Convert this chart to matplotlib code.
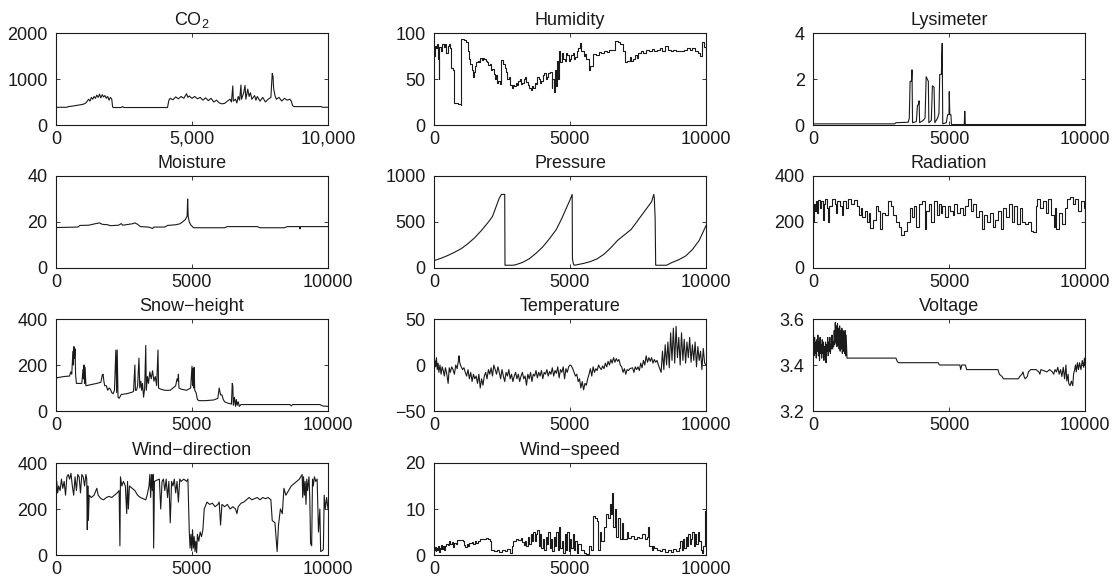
import matplotlib
matplotlib.use("Agg")
import matplotlib.pyplot as plt

plt.rcParams['font.family'] = ['Liberation Sans', 'DejaVu Sans']
plt.rcParams['mathtext.fontset'] = 'custom'
plt.rcParams['mathtext.rm'] = 'Liberation Sans'
plt.rcParams['mathtext.it'] = 'Liberation Sans'

# ---------------- data (sample index, value) ----------------
co2 = [(0,385),(400,385),(450,400),(600,410),(800,430),(1000,450),(1100,480),(1150,520),(1200,560),(1250,520),
       (1300,600),(1350,560),(1400,620),(1450,580),(1500,650),(1550,600),(1600,670),(1650,590),(1700,660),(1750,610),
       (1800,640),(1850,580),(1900,620),(1950,540),(2000,600),(2050,560),(2080,400),(2100,380),(2400,380),(2450,400),
       (2500,380),(4100,380),(4150,540),(4200,580),(4300,550),(4400,610),(4500,570),(4600,620),(4700,580),(4800,680),
       (4850,600),(4900,630),(5000,580),(5100,620),(5200,570),(5300,600),(5400,540),(5500,590),(5600,530),(5700,580),
       (5800,500),(5900,540),(6000,480),(6100,460),(6200,470),(6300,520),(6400,560),(6450,500),(6500,850),(6520,520),
       (6600,560),(6650,480),(6700,620),(6750,540),(6800,870),(6820,560),(6900,700),(6950,860),(6980,560),(7050,780),
       (7100,620),(7150,700),(7200,560),(7300,640),(7350,540),(7400,620),(7500,520),(7600,600),(7700,500),(7800,560),
       (7900,600),(7950,1120),(7980,1050),(8000,800),(8050,640),(8100,560),(8200,600),(8300,520),(8400,580),(8500,540),
       (8600,560),(8650,520),(8700,420),(8750,400),(9750,400),(9800,385),(10000,385)]

humidity = [(0,75),(40,86),(80,84),(120,88),(160,72),(180,50),(190,85),(250,80),(300,88),(350,85),(400,88),(450,78),
            (500,86),(550,88),(600,84),(640,62),(700,60),(720,24),(900,23),(975,22),(985,93),(1100,92),(1170,90),
            (1250,80),(1300,72),(1340,66),(1380,60),(1440,52),(1480,58),(1500,64),(1560,68),(1600,70),(1650,69),
            (1700,73),(1750,71),(1800,73),(1850,72),(1900,70),(1950,68),(2000,65),(2050,66),(2100,60),(2150,61),
            (2200,55),(2250,50),(2280,54),(2300,46),(2350,48),(2420,45),(2480,71),(2550,66),(2600,62),(2650,58),
            (2700,50),(2750,52),(2800,43),(2850,40),(2900,44),(2950,42),(3000,46),(3050,44),(3100,48),(3150,50),
            (3200,45),(3250,46),(3300,50),(3350,52),(3400,47),(3450,44),(3500,40),(3550,38),(3600,42),(3650,40),
            (3700,46),(3750,45),(3800,52),(3850,50),(3900,46),(3950,48),(4000,54),(4050,56),(4100,50),(4150,52),
            (4200,56),(4250,58),(4320,40),(4350,50),(4400,36),(4440,60),(4480,42),(4520,70),(4560,50),(4600,80),
            (4650,68),(4700,78),(4750,72),(4800,70),(4850,78),(4900,76),(4950,70),(5000,72),(5050,76),(5100,78),
            (5150,72),(5200,74),(5250,80),(5300,84),(5360,89),(5420,80),(5500,75),(5550,77),(5600,72),(5690,60),
            (5750,64),(5850,77),(5950,76),(6050,79),(6150,78),(6250,80),(6350,79),(6450,81),(6550,82),(6670,91),
            (6750,90),(6830,88),(6950,80),(7040,68),(7100,70),(7200,74),(7250,70),(7300,72),(7400,76),(7450,73),
            (7500,78),(7600,80),(7700,78),(7800,82),(7900,80),(8000,83),(8100,80),(8200,81),(8300,84),(8400,80),
            (8500,86),(8600,82),(8700,80),(8800,81),(8900,80),(9000,80),(9100,80),(9200,81),(9300,84),(9400,82),
            (9500,84),(9600,80),(9700,78),(9780,75),(9850,80),(9870,90),(9930,85),(10000,80)]

lysimeter = [(0,0.05),(3000,0.05),(3050,0.1),(3500,0.12),(3540,0.3),(3570,1.9),(3620,1.9),(3640,2.4),(3660,0.1),
             (3800,0.15),(3840,0.85),(3880,0.9),(3900,1.05),(3920,0.1),(4050,0.2),(4120,0.3),(4160,2.1),(4200,2.0),
             (4240,1.9),(4260,0.1),(4350,0.2),(4390,1.7),(4450,1.65),(4480,0.1),(4580,0.3),(4630,0.5),(4660,2.2),
             (4720,2.2),(4750,3.55),(4770,0.05),(4900,0.1),(4950,0.45),(5000,0.45),(5010,1.45),(5030,0.45),
             (5070,0.45),(5090,0.02),(5560,0.02),(5580,0.6),(5600,0.02),(10000,0.02)]

moisture = [(0,17.2),(30,17.6),(800,17.8),(880,18.5),(1200,18.6),(1500,19.4),(1600,19.6),(1700,19.0),(1900,18.8),
            (2000,18.4),(2300,18.6),(2400,19.3),(2450,18.6),(2800,19.2),(2900,19.6),(3000,19.0),(3100,18.0),
            (3400,17.8),(3550,17.2),(3600,17.8),(4000,17.8),(4100,18.5),(4400,18.8),(4550,19.2),(4650,20.0),
            (4750,21.0),(4820,22.5),(4840,30.0),(4860,22.5),(4900,20.0),(4950,18.8),(5060,17.5),(6200,17.5),
            (6300,18.0),(7400,18.0),(7500,17.5),(8400,17.5),(8500,18.0),(8950,18.0),(8970,17.0),(8990,18.0),
            (10000,18.0)]

pressure = [(0,80),(250,105),(500,135),(750,170),(1000,210),(1250,265),(1500,330),(1750,410),(2000,500),(2150,560),
            (2200,600),(2300,680),(2400,760),(2480,800),(2600,800),(2610,30),(2900,30),(3000,35),(3250,60),(3500,100),
            (3750,160),(4000,230),(4250,320),(4500,420),(4700,540),(4850,640),(5000,740),(5080,800),(5090,100),
            (5120,50),(5150,30),(5250,35),(5500,50),(5750,70),(6000,100),(6250,150),(6500,220),(6750,300),(7000,360),
            (7250,420),(7500,520),(7750,620),(8000,720),(8080,800),(8100,760),(8130,540),(8150,30),(8550,30),
            (8750,60),(9000,90),(9250,130),(9500,200),(9750,300),(10000,460)]

radiation = [(0,200),(30,280),(60,250),(100,290),(150,240),(200,295),(250,260),(300,290),(350,210),(400,280),
             (450,300),(500,260),(550,200),(600,270),(700,300),(800,280),(850,240),(900,290),(1000,270),(1050,230),
             (1100,290),(1200,260),(1300,300),(1400,280),(1500,295),(1600,270),(1700,230),(1750,260),(1800,220),
             (1900,250),(2000,200),(2050,240),(2100,175),(2200,210),(2300,270),(2400,250),(2450,170),(2550,240),
             (2650,230),(2750,290),(2850,270),(2950,230),(3050,200),(3150,180),(3250,145),(3350,160),(3450,200),
             (3550,260),(3650,220),(3700,270),(3800,180),(3900,280),(4000,290),(4100,170),(4150,250),(4250,280),
             (4350,200),(4450,290),(4550,230),(4650,280),(4700,240),(4750,270),(4850,220),(4950,270),(5050,250),
             (5150,230),(5200,280),(5300,240),(5400,260),(5500,230),(5600,270),(5700,300),(5800,250),(5900,280),
             (6000,220),(6100,250),(6200,170),(6300,230),(6400,200),(6500,240),(6600,180),(6700,210),(6800,250),
             (6900,170),(7000,260),(7100,220),(7200,280),(7300,200),(7400,270),(7500,190),(7600,260),(7700,200),
             (7800,190),(7900,200),(8000,160),(8100,155),(8200,270),(8250,300),(8350,260),(8450,290),(8550,240),
             (8650,300),(8750,230),(8850,180),(8900,260),(8950,170),(9050,240),(9150,190),(9250,260),(9350,300),
             (9450,310),(9550,280),(9650,300),(9750,250),(9850,290),(9950,260),(10000,200)]

snow = [(0,140),(50,145),(300,150),(500,152),(540,170),(580,160),(620,260),(640,200),(660,280),(680,230),(700,270),
        (720,160),(750,120),(950,120),(990,180),(1010,140),(1030,200),(1050,120),(1070,190),(1100,110),(1300,115),
        (1500,120),(1650,125),(1700,155),(1730,160),(1760,130),(1790,110),(1850,110),(1900,90),(1950,100),(2000,95),
        (2050,80),(2100,75),(2150,90),(2200,265),(2230,80),(2250,265),(2280,60),(2320,55),(2400,72),(2600,75),
        (2800,82),(2850,85),(2900,200),(2920,90),(2960,90),(3000,110),(3050,230),(3080,100),(3120,130),(3150,90),
        (3180,120),(3220,60),(3260,100),(3300,285),(3320,90),(3360,150),(3400,120),(3450,170),(3500,140),(3550,175),
        (3600,130),(3650,150),(3700,110),(3750,265),(3770,100),(3850,95),(4000,90),(4200,90),(4300,100),(4400,110),
        (4450,140),(4480,130),(4500,160),(4520,100),(4600,95),(4800,90),(4950,100),(5000,195),(5020,110),(5040,185),
        (5060,100),(5080,190),(5100,90),(5150,80),(5200,50),(5250,45),(5500,45),(5800,48),(5950,55),(6000,100),
        (6050,70),(6100,70),(6150,50),(6200,40),(6300,35),(6450,30),(6480,120),(6500,110),(6520,25),(6560,60),
        (6600,20),(6630,50),(6660,25),(6700,40),(6740,20),(6800,28),(8600,28),(8650,22),(8700,28),(9700,28),
        (9800,22),(10000,20)]

temperature = [(0,-5),(30,5),(60,-2),(90,8),(120,-5),(150,2),(180,-8),(220,0),(260,-10),(300,-2),(340,-6),(380,-12),
               (420,-3),(460,-8),(520,-20),(560,-3),(600,-8),(650,-2),(700,-5),(750,-10),(800,0),(850,-4),(900,5),
               (920,10),(950,2),(1000,-2),(1050,-5),(1100,-3),(1150,-8),(1200,-12),(1250,-5),(1300,-15),(1350,-8),
               (1400,-18),(1450,-10),(1500,-15),(1550,-12),(1600,-20),(1650,-10),(1700,-25),(1750,-15),(1800,-22),
               (1850,-12),(1900,-8),(1950,-15),(2000,-5),(2050,-10),(2100,-3),(2150,-12),(2200,0),(2250,-5),
               (2300,-10),(2350,-2),(2400,-8),(2450,-15),(2500,-5),(2550,-12),(2600,-18),(2650,-8),(2700,-12),
               (2750,-5),(2800,-15),(2850,-10),(2900,-18),(2950,-12),(3000,-8),(3050,-15),(3100,-10),(3150,-18),
               (3200,-12),(3250,-8),(3300,-15),(3350,-12),(3400,-22),(3450,-10),(3500,-15),(3550,-8),(3600,-18),
               (3650,-10),(3700,-12),(3750,-6),(3800,-14),(3850,-8),(3900,-12),(3950,-6),(4000,-15),(4050,-8),
               (4100,-10),(4150,-5),(4200,-12),(4250,-7),(4300,-10),(4350,-3),(4400,-12),(4450,-6),(4500,-9),
               (4550,-2),(4600,-14),(4650,-5),(4700,-8),(4750,-2),(4800,-15),(4850,-4),(4900,-8),(4950,-2),(5000,0),
               (5050,-1),(5100,-4),(5150,-8),(5200,-12),(5250,-10),(5300,-18),(5350,-15),(5400,-25),(5450,-18),
               (5500,-27),(5550,-20),(5600,-22),(5650,-15),(5700,-10),(5750,-4),(5800,-12),(5850,-2),(5900,-8),
               (5950,-4),(6000,-6),(6050,0),(6100,-3),(6150,-5),(6200,-1),(6250,-4),(6300,2),(6350,-2),(6400,4),
               (6450,0),(6500,6),(6550,2),(6600,8),(6650,3),(6700,7),(6750,4),(6800,6),(6850,0),(6900,-2),(6950,-8),
               (7000,-4),(7050,-10),(7100,-5),(7150,-6),(7200,-4),(7300,-3),(7350,-8),(7400,-2),(7450,-5),(7500,-2),
               (7550,-6),(7600,2),(7650,-3),(7700,5),(7750,0),(7800,10),(7850,3),(7900,8),(7950,4),(8000,8),(8050,2),
               (8100,6),(8150,3),(8200,5),(8250,0),(8300,-4),(8350,-8),(8400,15),(8450,-5),(8500,22),(8550,0),
               (8600,25),(8650,-3),(8700,35),(8750,5),(8800,40),(8850,2),(8900,42),(8950,8),(9000,30),(9050,0),
               (9100,35),(9150,5),(9200,28),(9250,2),(9300,25),(9350,8),(9400,30),(9450,3),(9500,22),(9550,5),
               (9600,25),(9650,-2),(9700,20),(9750,5),(9800,15),(9850,-5),(9900,18),(9950,2),(10000,0)]

voltage = [(0,3.46),(20,3.53),(40,3.44),(60,3.52),(80,3.45),(100,3.50),(120,3.43),(140,3.51),(160,3.46),(180,3.53),
           (200,3.44),(220,3.50),(240,3.42),(260,3.52),(280,3.45),(300,3.49),(320,3.43),(340,3.51),(360,3.45),
           (380,3.50),(400,3.42),(420,3.48),(440,3.44),(460,3.50),(480,3.41),(500,3.49),(520,3.46),(540,3.52),
           (560,3.44),(580,3.50),(600,3.46),(620,3.52),(640,3.45),(660,3.49),(680,3.47),(700,3.53),(720,3.47),
           (740,3.50),(760,3.48),(780,3.55),(800,3.49),(820,3.585),(840,3.50),(860,3.57),(880,3.48),(900,3.58),
           (920,3.49),(940,3.56),(960,3.47),(980,3.57),(1000,3.46),(1020,3.55),(1040,3.47),(1060,3.56),(1080,3.45),
           (1100,3.55),(1120,3.46),(1140,3.54),(1160,3.45),(1180,3.55),(1200,3.44),(1220,3.53),(1250,3.43),
           (3050,3.43),(3100,3.415),(3150,3.41),(4600,3.41),(4650,3.40),(5400,3.40),(5430,3.38),(5470,3.40),
           (5600,3.40),(5650,3.38),(6800,3.38),(6850,3.36),(6950,3.35),(7000,3.34),(7550,3.34),(7600,3.35),
           (7680,3.36),(7720,3.37),(7760,3.35),(7800,3.34),(7880,3.35),(7920,3.37),(8000,3.38),(8200,3.38),
           (8300,3.37),(8340,3.36),(8380,3.38),(8600,3.37),(8700,3.38),(8800,3.37),(8850,3.36),(8900,3.38),
           (8950,3.37),(9000,3.39),(9050,3.36),(9100,3.38),(9150,3.35),(9200,3.39),(9250,3.34),(9300,3.40),
           (9330,3.33),(9380,3.36),(9400,3.32),(9450,3.31),(9500,3.33),(9550,3.31),(9580,3.36),(9620,3.38),
           (9650,3.40),(9680,3.37),(9720,3.41),(9760,3.38),(9800,3.41),(9850,3.38),(9900,3.42),(9950,3.39),
           (9980,3.43),(10000,3.40)]

wind_dir = [(0,280),(30,320),(60,270),(100,300),(150,280),(200,330),(250,290),(300,320),(350,260),(400,340),
            (450,350),(500,330),(550,355),(600,300),(650,260),(700,340),(750,280),(800,350),(850,340),(900,270),
            (950,350),(1000,340),(1050,300),(1100,350),(1130,330),(1150,110),(1170,300),(1190,150),(1220,260),
            (1300,250),(1400,260),(1500,290),(1550,260),(1650,245),(1750,240),(1850,250),(1950,255),(2050,250),
            (2150,260),(2250,270),(2320,280),(2350,40),(2370,340),(2420,300),(2480,320),(2550,300),(2600,180),
            (2630,320),(2660,200),(2700,300),(2800,290),(2900,280),(3000,260),(3100,250),(3200,245),(3300,240),
            (3350,260),(3420,300),(3450,350),(3480,250),(3510,350),(3540,280),(3570,350),(3590,30),(3620,320),
            (3700,325),(3800,330),(3850,200),(3900,320),(3950,330),(4000,280),(4050,330),(4100,250),(4150,320),
            (4200,140),(4250,320),(4300,300),(4350,330),(4400,270),(4450,320),(4500,230),(4550,330),(4600,320),
            (4700,330),(4800,320),(4850,330),(4900,100),(4930,30),(4960,90),(4990,20),(5020,110),(5050,30),
            (5080,80),(5110,15),(5140,60),(5170,10),(5200,90),(5250,60),(5300,100),(5350,80),(5400,110),(5450,200),
            (5550,230),(5650,220),(5750,225),(5850,210),(5950,220),(6000,230),(6050,130),(6100,220),(6200,210),
            (6300,220),(6400,200),(6500,210),(6600,200),(6650,180),(6700,210),(6800,225),(6900,230),(7000,240),
            (7100,250),(7200,240),(7300,245),(7400,250),(7500,240),(7600,250),(7700,245),(7800,250),(7900,240),
            (7950,150),(8050,140),(8130,15),(8180,130),(8250,200),(8320,180),(8380,290),(8450,260),(8550,280),
            (8650,300),(8750,310),(8850,320),(8950,330),(9000,340),(9050,350),(9070,250),(9100,340),(9130,260),
            (9160,320),(9190,220),(9220,330),(9250,280),(9300,340),(9330,250),(9360,50),(9400,40),(9430,330),
            (9460,300),(9500,340),(9550,320),(9600,330),(9650,100),(9700,200),(9730,15),(9800,20),(9830,25),
            (9860,260),(9900,200),(9950,250),(10000,200)]

wind_speed = [(0,1),(30,1.8),(60,0.8),(90,1.5),(120,1),(150,2),(180,0.6),(210,1.6),(240,1.2),(270,2.2),(300,1.4),
              (330,1.9),(360,1),(400,2),(450,2.5),(500,2.2),(550,3),(600,2.4),(650,2.8),(700,1.8),(750,2.6),
              (800,2.3),(850,3.2),(900,3.3),(1000,3.3),(1050,3.0),(1100,2.2),(1150,1.8),(1200,2.5),(1250,2.0),
              (1300,2.6),(1400,2.8),(1450,2.4),(1500,3.0),(1550,2.6),(1600,3.0),(1700,3.5),(1800,3.4),(1900,3.6),
              (2000,3.4),(2050,3.0),(2100,1.0),(2200,0.8),(2300,1.0),(2400,0.6),(2500,1.0),(2600,0.8),(2700,1.2),
              (2800,0.5),(2850,2.0),(2900,3.0),(3000,3.5),(3100,3.3),(3200,3.6),(3250,2.8),(3300,2.2),(3350,3.0),
              (3400,2.0),(3450,4.0),(3500,2.5),(3550,4.5),(3600,3.0),(3650,5.0),(3700,3.0),(3750,4.5),(3800,5.5),
              (3850,2.0),(3900,4.5),(3950,1.5),(4000,3.5),(4050,1.0),(4100,4.0),(4150,2.5),(4200,5.0),(4250,1.5),
              (4300,3.5),(4350,0.8),(4400,4.0),(4450,2.0),(4500,5.0),(4550,1.0),(4600,6.0),(4650,1.5),(4700,3.0),
              (4750,0.5),(4800,4.5),(4850,1.0),(4900,5.0),(4950,0.8),(5000,3.5),(5050,1.5),(5100,4.5),(5150,1.0),
              (5200,3.0),(5250,0.5),(5300,2.5),(5400,1.0),(5500,0.5),(5600,0.3),(5700,2.0),(5780,1.0),(5850,8.5),
              (5920,8.0),(5980,7.5),(6040,1.0),(6100,5.0),(6150,3.0),(6250,6.0),(6340,9.0),(6400,8.0),(6470,11.0),
              (6500,9.0),(6550,13.5),(6590,6.0),(6650,10.0),(6700,4.0),(6780,8.0),(6830,3.5),(6900,7.0),(6950,3.5),
              (7080,5.0),(7150,3.8),(7250,4.2),(7350,3.5),(7450,4.0),(7550,3.6),(7650,4.5),(7750,3.5),(7820,4.0),
              (7880,6.0),(7920,2.0),(8000,1.0),(8050,2.0),(8100,1.5),(8200,1.0),(8300,0.8),(8400,1.2),(8500,0.7),
              (8600,1.0),(8700,0.6),(8800,1.2),(8900,0.8),(9000,1.5),(9050,3.0),(9100,1.0),(9150,3.5),(9200,1.5),
              (9250,4.0),(9300,2.0),(9350,4.5),(9400,2.5),(9450,3.5),(9500,5.0),(9550,2.0),(9600,4.5),(9650,2.5),
              (9700,5.0),(9750,3.0),(9800,1.0),(9840,0.5),(9900,2.0),(9960,9.5),(10000,10.0)]

titles = ['CO$_2$', 'Humidity', 'Lysimeter', 'Moisture', 'Pressure', 'Radiation',
          'Snow\u2212height', 'Temperature', 'Voltage', 'Wind\u2212direction', 'Wind\u2212speed']
series = [co2, humidity, lysimeter, moisture, pressure, radiation, snow, temperature, voltage, wind_dir, wind_speed]
stepped = [False, True, False, False, False, True, False, False, False, False, True]
yticks = [[0, 1000, 2000], [0, 50, 100], [0, 2, 4], [0, 20, 40], [0, 500, 1000], [0, 200, 400],
          [0, 200, 400], [-50, 0, 50], [3.2, 3.4, 3.6], [0, 200, 400], [0, 10, 20]]
xticks = [0, 5000, 10000]
xlabels_first = ['0', '5,000', '10,000']
xlabels = ['0', '5000', '10000']

# ---------------- layout ----------------
W, H = 1120, 578
fig = plt.figure(figsize=(W / 100, H / 100), dpi=100)
lefts = [56, 434, 813]
tops = [33, 176, 319, 463]
aw, ah = 272, 92
ink = '#1a1a1a'

for i, (title, data) in enumerate(zip(titles, series)):
    r, c = divmod(i, 3)
    ax = fig.add_axes([lefts[c] / W, 1 - (tops[r] + ah) / H, aw / W, ah / H])
    t = [p[0] for p in data]
    v = [p[1] for p in data]
    ax.plot(t, v, color=ink, lw=0.8, drawstyle='steps-post' if stepped[i] else 'default')
    ax.set_xlim(0, 10000)
    yt = yticks[i]
    ax.set_ylim(yt[0], yt[-1])
    ax.set_xticks(xticks)
    ax.set_xticklabels(xlabels_first if i == 0 else xlabels)
    ax.set_yticks(yt)
    ax.set_yticklabels([('%g' % y).replace('-', '\u2212') for y in yt])
    ax.tick_params(direction='in', length=3, width=0.6, top=True, right=True,
                   labelsize=13, colors=ink)
    ax.tick_params(axis='y', pad=6)
    ax.tick_params(axis='x', pad=4)
    for s in ax.spines.values():
        s.set_linewidth(0.8)
        s.set_color(ink)
    ax.set_title(title, fontsize=13, pad=5.5, color=ink)

fig.savefig('out.png', dpi=100)
